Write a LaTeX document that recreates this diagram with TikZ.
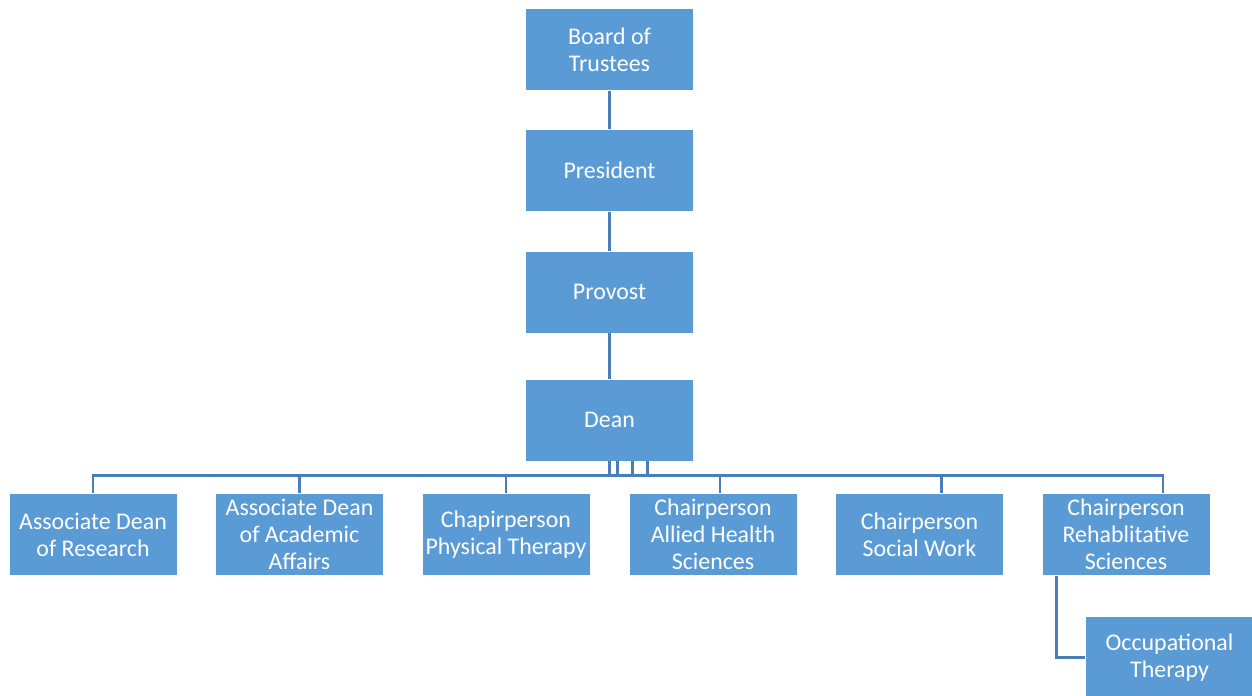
\documentclass[tikz,border=0pt]{standalone}
\usepackage{fontspec}
\setmainfont{Carlito}
\usepackage{tikz}
\usetikzlibrary{positioning,calc}
\definecolor{boxblue}{HTML}{5B9BD5}
\definecolor{lineblue}{HTML}{4A7EBB}

\begin{document}
\begin{tikzpicture}[
    x=0.025cm,
    y=-0.025cm
]

\tikzstyle{unit}=[
    rectangle,
    fill=boxblue,
    draw=white,
    line width=0.6pt,
    text=white,
    minimum width=4.2cm,
    minimum height=2.05cm,
    inner sep=1pt,
    align=center,
    font=\fontsize{17}{19.2}\selectfont
]

\tikzstyle{link}=[
    draw=lineblue,
    line width=2.1pt
]

\useasboundingbox (0,0) rectangle (1252,696);

% top of the chart
\node[unit] (board) at (609.5,49.5) {Board of\\Trustees};
\node[unit] (president) at (609.5,170.5) {President};
\node[unit] (provost) at (609.5,292) {Provost};
\node[unit] (dean) at (609.5,420) {Dean};

% chairs and associate deans
\node[unit] (research) at (93,534.5) {Associate Dean\\of Research};
\node[unit] (academic) at (299.5,534.5) {Associate Dean\\of Academic\\Affairs};
\node[unit] (physical) at (506,534.5) {Chapirperson\\Physical Therapy};
\node[unit] (allied) at (713,534.5) {Chairperson\\Allied Health\\Sciences};
\node[unit] (social) at (919.5,534.5) {Chairperson\\Social Work};
\node[unit] (rehab) at (1126,534.5) {Chairperson\\Rehablitative\\Sciences};

\node[unit] (ot) at (1169.5,657.5) {Occupational\\Therapy};


\draw[link] (board) -- (president);
\draw[link] (president) -- (provost);
\draw[link] (provost) -- (dean);

\foreach \n/\o/\s in {research/0/0, academic/0/0, physical/8/0, allied/23/7, social/38/22, rehab/0/37}
    \draw[link] ($(dean.south)+(\o,0)$) -- ++(0,14) -| ($(\n.north)+(\s,0)$);

\draw[link] ($(rehab.south west)+(15,0)$) |- (ot.west);

\end{tikzpicture}
\end{document}
